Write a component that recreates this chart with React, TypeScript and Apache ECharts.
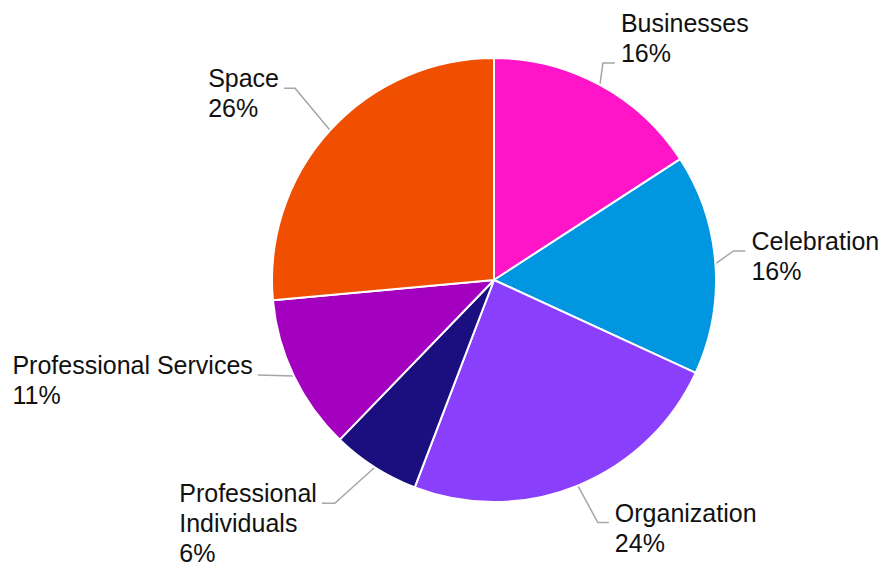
import React, { useEffect, useRef } from "react";
import * as echarts from "echarts";

const categories = [
  "Businesses",
  "Celebration",
  "Organization",
  "Professional Individuals",
  "Professional Services",
  "Space",
];
const shares = [15.8, 16.0, 23.9, 6.4, 11.3, 26.4];
const colors = ["#FF14C8", "#0096E0", "#8A3FFC", "#1B0E7F", "#A300BF", "#F04E00"];

// leader line shape relative to the slice-edge point: [elbowDx, elbowDy, horizontal, anchoredTextLine]
const LEADERS = [
  [3, -22, 12, 1],
  [18, -13, 12, 0],
  [20, 37, 11, 0],
  [-40, 36, -13, 0],
  [-36, -1, 0, 0],
  [-35, -42, -11, 0],
];

const wrapName = (n: string) => (n === "Professional Individuals" ? "Professional\nIndividuals" : n);

export default function App() {
  const ref = useRef<HTMLDivElement>(null);
  useEffect(() => {
    if (!ref.current) return;
    const chart = echarts.init(ref.current, null, { renderer: "svg" });
    chart.setOption({
      animation: false,
      backgroundColor: "#ffffff",
      series: [
        {
          type: "pie",
          center: [494, 280],
          radius: 222,
          startAngle: 90,
          clockwise: true,
          avoidLabelOverlap: false,
          itemStyle: { borderColor: "#ffffff", borderWidth: 2 },
          label: {
            show: true,
            position: "outside",
            fontFamily: "Liberation Sans",
            fontSize: 25,
            lineHeight: 30,
            color: "#111111",
            align: "left",
            formatter: (p: any) => `${wrapName(p.name)}\n${Math.round(p.value)}%`,
          },
          labelLine: {
            show: true,
            length: 18,
            length2: 12,
            lineStyle: { color: "#A6A6A6", width: 1.5 },
          },
          labelLayout: (params: any) => {
            const i = params.dataIndex;
            const pts = params.labelLinePoints;
            if (!pts) return {};
            const [edx, edy, h, anchor] = LEADERS[i];
            const s = pts[0];
            const elbow = [s[0] + edx, s[1] + edy];
            const end = [elbow[0] + h, elbow[1]];
            const isLeft = edx < 0;
            const w = params.labelRect.width;
            const x = isLeft ? end[0] - 5 - w : end[0] + 6;
            const y = end[1] - 10 - 15 - 30 * anchor;
            return {
              x,
              y,
              align: "left",
              verticalAlign: "top",
              labelLinePoints: [s, elbow, end],
            };
          },
          data: categories.map((name, i) => ({
            name,
            value: shares[i],
            itemStyle: { color: colors[i] },
          })),
        },
      ],
    });
    return () => chart.dispose();
  }, []);
  return (
    <div
      ref={ref}
      style={{ position: "fixed", left: 0, top: 0, width: 880, height: 565, background: "#fff" }}
    />
  );
}
